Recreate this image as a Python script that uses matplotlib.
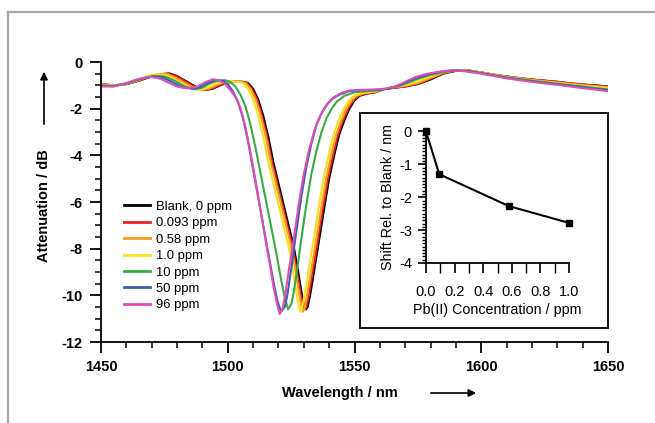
import matplotlib
matplotlib.use("Agg")
import matplotlib.pyplot as plt
from matplotlib.patches import Rectangle, FancyArrowPatch
from matplotlib.lines import Line2D
from matplotlib.ticker import MultipleLocator

plt.rcParams['font.family'] = ['Liberation Sans', 'DejaVu Sans']

# ---------------- data ----------------
labels = ["Blank, 0 ppm", "0.093 ppm", "0.58 ppm", "1.0 ppm", "10 ppm", "50 ppm", "96 ppm"]
colors = ["#000000", "#e8202a", "#f5a01e", "#f7e11c", "#3aaa48", "#3b5fae", "#de4fb2"]

wl_blank = [1450,1455,1460,1465,1470,1474,1477,1480,1484,1488,1491,1494,1497,1500,1503,1506,1508,1510,1512,1514,
            1516,1518,1520,1522,1524,1526,1527.5,1529,1530,1530.8,1531.5,1532.5,1534,1535.5,1538,1540,1542,1544,1546,1548,
            1550,1552,1555,1558,1562,1566,1570,1575,1580,1585,1590,1594,1600,1605,1610,1615,1620,1625,1630,1635,1640,1645,1650]
att_blank = [-0.95,-1.0,-0.95,-0.8,-0.62,-0.52,-0.49,-0.6,-0.85,-1.1,-1.2,-1.15,-1.0,-0.88,-0.84,-0.85,-0.9,-1.15,-1.6,-2.3,
             -3.2,-4.3,-5.2,-6.1,-7.0,-7.9,-8.8,-9.8,-10.4,-10.6,-10.5,-10.0,-9.0,-8.0,-6.3,-5.0,-4.0,-3.1,-2.5,-2.0,
             -1.65,-1.45,-1.35,-1.3,-1.15,-1.1,-1.05,-0.95,-0.75,-0.5,-0.38,-0.35,-0.45,-0.55,-0.62,-0.7,-0.75,-0.8,-0.85,-0.92,-0.97,-1.0,-1.05]

wl_0093 = [1450,1455,1460,1465,1470,1473.5,1476.5,1480,1484,1488,1490.5,1494,1497,1500,1502.5,1505.5,1507.5,1509.5,1511.5,1513.5,
           1515.5,1517.5,1519.5,1521.5,1523.5,1525.5,1527,1528.5,1529.5,1530.3,1531,1532,1533.5,1535,1537.5,1539.5,1541.5,1543.5,1545.5,1547.5,
           1549.5,1551.5,1554.5,1558,1562,1566,1570,1575,1580,1585,1590,1594,1600,1610,1620,1630,1640,1650]
att_0093 = [-0.95,-1.0,-0.95,-0.8,-0.6,-0.52,-0.5,-0.62,-0.88,-1.12,-1.2,-1.13,-0.98,-0.87,-0.84,-0.85,-0.9,-1.15,-1.6,-2.3,
            -3.2,-4.3,-5.2,-6.1,-7.0,-7.9,-8.8,-9.8,-10.4,-10.6,-10.5,-10.0,-9.0,-8.0,-6.3,-5.0,-4.0,-3.1,-2.5,-2.0,
            -1.65,-1.45,-1.35,-1.3,-1.15,-1.1,-1.05,-0.93,-0.72,-0.48,-0.37,-0.34,-0.45,-0.62,-0.75,-0.85,-0.96,-1.05]

wl_058 = [1450,1455,1460,1465,1469,1473,1476,1479,1483,1487,1490,1493,1496,1499,1502,1505,1507,1509,1511,1513,
          1515,1517,1519,1521,1523,1525,1526.5,1528,1529,1529.6,1530.3,1531.3,1532.8,1534.3,1536.8,1538.8,1540.8,1542.8,1544.8,1546.8,
          1548.8,1550.8,1554,1558,1562,1566,1570,1575,1580,1585,1590,1594,1600,1610,1620,1630,1640,1650]
att_058 = [-0.97,-1.0,-0.94,-0.78,-0.6,-0.52,-0.52,-0.65,-0.9,-1.13,-1.2,-1.12,-0.97,-0.86,-0.84,-0.85,-0.9,-1.15,-1.6,-2.3,
           -3.2,-4.3,-5.2,-6.1,-7.0,-7.9,-8.8,-9.8,-10.45,-10.7,-10.55,-10.0,-9.0,-8.0,-6.3,-5.0,-4.0,-3.1,-2.5,-2.0,
           -1.65,-1.45,-1.33,-1.28,-1.15,-1.08,-1.02,-0.9,-0.68,-0.46,-0.36,-0.34,-0.45,-0.63,-0.77,-0.88,-0.99,-1.08]

wl_10 = [1450,1455,1460,1465,1468,1472,1475,1478,1482,1486,1489,1492,1495,1498,1501,1504,1506,1508,1510,1512,
         1514,1516,1518,1520,1522,1524,1525.5,1527,1528,1528.6,1529.3,1530.3,1531.8,1533.3,1535.8,1537.8,1539.8,1541.8,1543.8,1545.8,
         1547.8,1549.8,1553,1557,1561,1565,1569,1574,1579,1584,1589,1593,1600,1610,1620,1630,1640,1650]
att_10 = [-0.97,-1.0,-0.94,-0.76,-0.6,-0.53,-0.54,-0.68,-0.92,-1.14,-1.2,-1.1,-0.95,-0.85,-0.84,-0.85,-0.9,-1.15,-1.6,-2.3,
          -3.2,-4.3,-5.2,-6.1,-7.0,-7.9,-8.8,-9.8,-10.45,-10.7,-10.55,-10.0,-9.0,-8.0,-6.3,-5.0,-4.0,-3.1,-2.5,-2.0,
          -1.65,-1.45,-1.32,-1.27,-1.15,-1.07,-1.0,-0.87,-0.65,-0.45,-0.36,-0.35,-0.46,-0.65,-0.79,-0.9,-1.02,-1.12]

wl_10ppm = [1450,1455,1460,1465,1471,1475,1479,1483,1487,1490,1493,1496,1499,1501,1503,1505,1507,1509,1511,1513,
            1515,1517,1519,1521,1522.5,1523.8,1525,1526,1527.5,1529,1531,1533,1535,1537,1539,1541,1543,1546,1550,1555,
            1560,1564,1568,1572,1576,1580,1585,1590,1595,1600,1610,1620,1630,1640,1650]
att_10ppm = [-1.0,-1.02,-0.92,-0.75,-0.6,-0.62,-0.8,-1.05,-1.17,-1.1,-0.92,-0.8,-0.78,-0.85,-1.05,-1.4,-1.9,-2.7,-3.7,-4.8,
             -5.9,-7.0,-8.1,-9.3,-10.1,-10.6,-10.4,-9.9,-8.8,-7.6,-6.1,-4.8,-3.8,-3.0,-2.4,-2.0,-1.7,-1.45,-1.3,-1.25,
             -1.2,-1.12,-1.0,-0.85,-0.68,-0.55,-0.43,-0.36,-0.38,-0.47,-0.66,-0.8,-0.93,-1.05,-1.18]

wl_50 = [1450,1455,1460,1465,1470,1474,1478,1482,1486,1489,1492,1495,1498,1500,1502,1504,1506,1508,1510,1512,
         1514,1516,1518,1519.5,1521,1522.5,1523.5,1525,1527,1529,1531,1533,1535,1537,1539,1541,1544,1548,1553,1558,
         1563,1567,1571,1575,1579,1584,1589,1594,1600,1610,1620,1630,1640,1650]
att_50 = [-1.02,-1.04,-0.92,-0.74,-0.62,-0.66,-0.85,-1.08,-1.15,-1.08,-0.9,-0.78,-0.8,-0.95,-1.25,-1.7,-2.4,-3.4,-4.6,-5.8,
          -7.0,-8.2,-9.4,-10.2,-10.7,-10.5,-10.0,-8.9,-7.3,-5.8,-4.5,-3.5,-2.7,-2.2,-1.85,-1.6,-1.4,-1.25,-1.2,-1.2,
          -1.15,-1.03,-0.85,-0.67,-0.54,-0.42,-0.36,-0.38,-0.48,-0.68,-0.83,-0.95,-1.08,-1.2]

wl_96 = [1450,1455,1460,1465,1469,1473,1477,1480,1484,1488,1491,1494,1497,1499,1501,1503,1505,1507,1509,1511,
         1513,1515,1516.5,1518,1519.5,1520.5,1521.5,1522.5,1524,1526,1528,1530,1532,1534,1536,1538,1540,1542,1545,1548,
         1552,1557,1562,1566,1570,1574,1578,1583,1588,1592,1600,1605,1610,1615,1620,1625,1630,1635,1640,1645,1650]
att_96 = [-1.05,-1.05,-0.9,-0.72,-0.63,-0.7,-0.9,-1.05,-1.13,-1.05,-0.88,-0.74,-0.8,-0.95,-1.2,-1.5,-1.95,-2.8,-3.9,-5.1,
          -6.4,-7.7,-8.6,-9.6,-10.4,-10.8,-10.6,-10.1,-9.0,-7.6,-6.1,-4.8,-3.8,-3.0,-2.4,-2.0,-1.7,-1.5,-1.32,-1.22,
          -1.2,-1.18,-1.15,-1.05,-0.85,-0.65,-0.52,-0.42,-0.36,-0.38,-0.5,-0.6,-0.7,-0.78,-0.85,-0.92,-0.98,-1.05,-1.12,-1.18,-1.25]

wavelengths = [wl_blank, wl_0093, wl_058, wl_10, wl_10ppm, wl_50, wl_96]
attenuations = [att_blank, att_0093, att_058, att_10, att_10ppm, att_50, att_96]

conc = [0.0, 0.093, 0.58, 1.0]
shift = [0.0, -1.3, -2.27, -2.78]

main_xticks = [1450, 1500, 1550, 1600, 1650]
main_yticks = [0, -2, -4, -6, -8, -10, -12]

# ---------------- figure ----------------
W, H = 655, 423
fig = plt.figure(figsize=(W / 100, H / 100), dpi=100)

def fx(px):
    return px / W

def fy(py):
    return 1 - py / H

# grey frame
fig.add_artist(Line2D([fx(8), 1.0], [fy(12), fy(12)], color="#a8a8a8", lw=1.6, transform=fig.transFigure))
fig.add_artist(Line2D([fx(8), fx(8)], [fy(12), 0.0], color="#a8a8a8", lw=1.6, transform=fig.transFigure))

ax = fig.add_axes([fx(101), fy(342), fx(608) - fx(101), fy(62) - fy(342)])
for wl, att, c, lab in zip(wavelengths, attenuations, colors, labels):
    ax.plot(wl, att, color=c, lw=1.5, label=lab, solid_joinstyle="round")

ax.set_xlim(1450, 1650)
ax.set_ylim(-12, 0)
ax.set_xticks(main_xticks)
ax.set_yticks(main_yticks)
ax.xaxis.set_minor_locator(MultipleLocator(10))
ax.yaxis.set_minor_locator(MultipleLocator(0.5))
for s in ["top", "right"]:
    ax.spines[s].set_visible(False)
for s in ["left", "bottom"]:
    ax.spines[s].set_linewidth(1.3)
ax.tick_params(which="major", direction="out", length=8, width=1.3, labelsize=10.5, pad=5)
ax.tick_params(which="minor", direction="out", length=4.5, width=1.1)
ax.set_xticklabels([str(v) for v in main_xticks], fontweight="bold")
ax.set_yticklabels([str(v) for v in main_yticks], fontweight="bold")

leg = ax.legend(loc="upper left", bbox_to_anchor=(fx(127) - fx(101), 1 - (198 - 62) / 280),
                frameon=False, fontsize=9.4, handlelength=2.0, handletextpad=0.45,
                labelspacing=0.33, borderpad=0.2, borderaxespad=0)
for line in leg.get_lines():
    line.set_linewidth(2.0)

fig.text(fx(340), fy(393), "Wavelength / nm", ha="center", va="center", fontsize=10.5, fontweight="bold")
fig.text(fx(44), fy(206), "Attenuation / dB", ha="center", va="center", rotation=90,
         fontsize=10.5, fontweight="bold")
fig.add_artist(FancyArrowPatch((fx(428), fy(393)), (fx(479), fy(393)), transform=fig.transFigure,
                               arrowstyle="-|>", mutation_scale=11, lw=1.2, color="black"))
fig.add_artist(FancyArrowPatch((fx(44), fy(127)), (fx(44), fy(69)), transform=fig.transFigure,
                               arrowstyle="-|>", mutation_scale=11, lw=1.2, color="black"))

# inset frame
fig.add_artist(Rectangle((fx(360), fy(328)), fx(608) - fx(360), fy(113) - fy(328), transform=fig.transFigure,
                         facecolor="white", edgecolor="black", lw=1.3, zorder=2))

ins = fig.add_axes([fx(426), fy(263), fx(569) - fx(426), fy(131.5) - fy(263)])
ins.set_zorder(3)
ins.patch.set_alpha(0)
ins.plot(conc, shift, color="black", lw=1.5, marker="s", markersize=4, clip_on=False)
ins.set_xlim(0, 1.0)
ins.set_ylim(-4, 0)
ins.set_xticks([0.0, 0.2, 0.4, 0.6, 0.8, 1.0])
ins.set_yticks([0, -1, -2, -3, -4])
ins.set_xticklabels(["0.0", "0.2", "0.4", "0.6", "0.8", "1.0"])
ins.set_yticklabels(["0", "-1", "-2", "-3", "-4"])
ins.xaxis.set_minor_locator(MultipleLocator(0.1))
ins.yaxis.set_minor_locator(MultipleLocator(0.1))
for s in ["top", "right"]:
    ins.spines[s].set_visible(False)
for s in ["left", "bottom"]:
    ins.spines[s].set_linewidth(1.3)
ins.tick_params(which="major", direction="out", length=6, width=1.2, labelsize=10.5, pad=4)
ins.tick_params(axis="x", which="major", length=7, pad=9)
ins.tick_params(which="minor", direction="out", length=3, width=1.0)
ins.tick_params(axis="x", which="minor", length=7)
ins.set_xlabel("Pb(II) Concentration / ppm", fontsize=10.3, labelpad=3)
ins.set_ylabel("Shift Rel. to Blank / nm", fontsize=10.3, labelpad=3)

fig.savefig("out.png", dpi=100, facecolor="white")
